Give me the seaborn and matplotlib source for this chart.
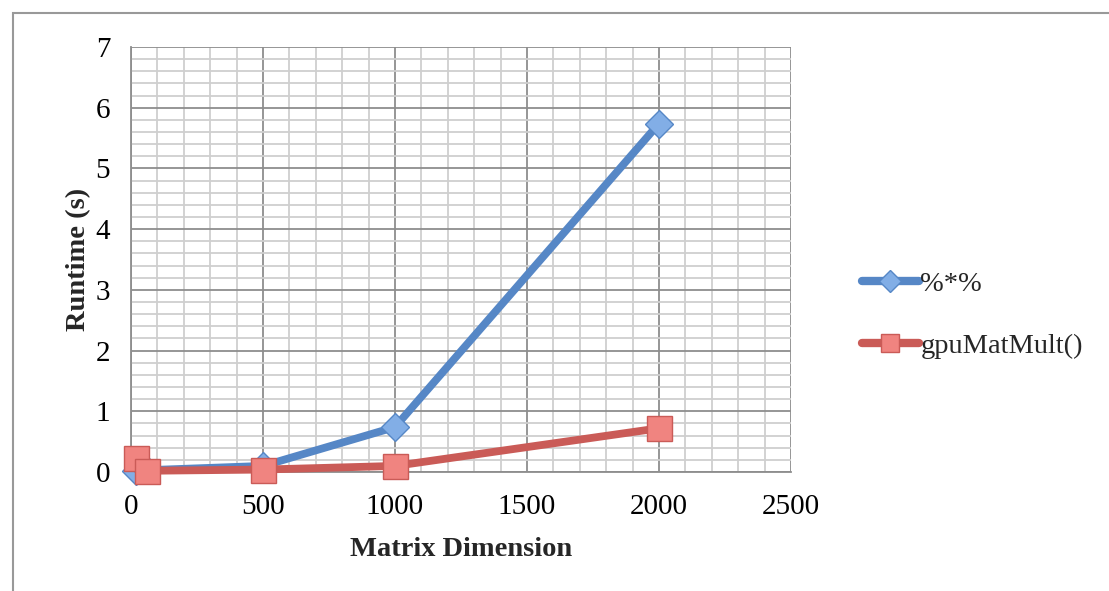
import matplotlib
matplotlib.use("Agg")
import matplotlib.pyplot as plt
import seaborn as sns
from matplotlib.lines import Line2D
from matplotlib.patches import Rectangle
from matplotlib.ticker import MultipleLocator

# Runtime measurements (seconds) by square matrix dimension
dims = [20, 60, 500, 1000, 2000]
cpu_runtime = [0.02, 0.03, 0.10, 0.74, 5.74]
gpu_runtime = [0.23, 0.02, 0.04, 0.10, 0.72]
series_names = ["%*%", "gpuMatMult()"]

x_ticks = [0, 500, 1000, 1500, 2000, 2500]
y_ticks = [0, 1, 2, 3, 4, 5, 6, 7]

sns.set_style("white")
plt.rcParams["font.family"] = ["Liberation Serif", "DejaVu Serif"]

W, H = 1109, 591
fig = plt.figure(figsize=(W / 100, H / 100), dpi=100)
ax = fig.add_axes([131 / W, 1 - 472 / H, 660 / W, 425 / H])

blue, blue_face = "#5687C6", "#82AEE6"
red, red_face = "#CA5B57", "#F08480"

sns.lineplot(x=dims, y=cpu_runtime, ax=ax, color=blue, linewidth=5.6,
             marker="D", markersize=14.5, markerfacecolor=blue_face,
             markeredgecolor=blue, markeredgewidth=1.0, zorder=3,
             clip_on=False, solid_capstyle="round")
sns.lineplot(x=dims, y=gpu_runtime, ax=ax, color=red, linewidth=5.6,
             marker="s", markersize=18, markerfacecolor=red_face,
             markeredgecolor=red, markeredgewidth=1.0, zorder=4,
             clip_on=False, solid_capstyle="round")

ax.set_xlim(x_ticks[0], x_ticks[-1])
ax.set_ylim(y_ticks[0], y_ticks[-1])
ax.set_xticks(x_ticks)
ax.set_yticks(y_ticks)
ax.xaxis.set_minor_locator(MultipleLocator(100))
ax.yaxis.set_minor_locator(MultipleLocator(0.2))

ax.grid(which="major", color="#8E8E8E", linewidth=1.3, zorder=0)
ax.grid(which="minor", color="#CFCFCF", linewidth=1.3, zorder=0)
ax.set_axisbelow(True)

for side in ["top", "right"]:
    ax.spines[side].set_visible(False)
for side in ["left", "bottom"]:
    ax.spines[side].set_color("#8E8E8E")
    ax.spines[side].set_linewidth(1.3)

ax.tick_params(axis="both", which="major", direction="out", length=5,
               width=1.3, color="#8E8E8E", labelsize=21, labelcolor="black")
ax.tick_params(axis="y", which="major", pad=10)
ax.tick_params(axis="x", which="major", pad=11)
ax.tick_params(which="minor", length=0)

ax.set_xlabel("Matrix Dimension", fontsize=20.5, fontweight="bold", labelpad=12)
ax.set_ylabel("Runtime (s)", fontsize=20.5, fontweight="bold", labelpad=3)

handles = [
    Line2D([], [], color=blue, linewidth=6, marker="D", markersize=11,
           markerfacecolor=blue_face, markeredgecolor=blue,
           solid_capstyle="round"),
    Line2D([], [], color=red, linewidth=6, marker="s", markersize=13,
           markerfacecolor=red_face, markeredgecolor=red,
           solid_capstyle="round"),
]
fig.legend(handles, series_names, loc="center left",
           bbox_to_anchor=(862 / W, 1 - 315 / H), frameon=False,
           fontsize=20.5, handlelength=2.0, handletextpad=0.05,
           labelspacing=1.25, borderaxespad=0, borderpad=0)

# Chart frame along the top and left edges
fig.patches.append(Rectangle((13 / W, -0.05), 1.2, 1 - 13 / H + 0.05,
                             transform=fig.transFigure, fill=False,
                             edgecolor="#999999", linewidth=1.5))

fig.savefig("out.png", dpi=100)
